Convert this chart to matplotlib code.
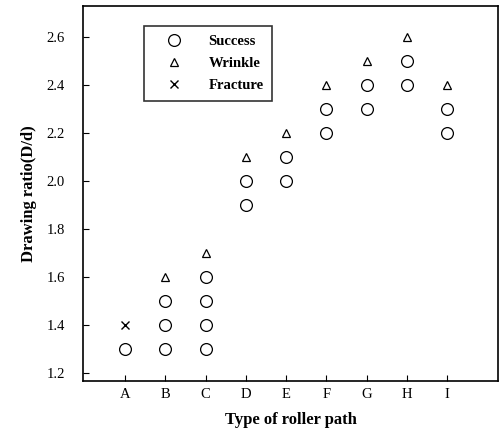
import matplotlib.pyplot as plt

# roller path types and the drawing ratios tried for each
paths = ["A", "B", "C", "D", "E", "F", "G", "H", "I"]

success_path = ["A", "B", "B", "B", "C", "C", "C", "C", "D", "D", "E", "E",
                "F", "F", "G", "G", "H", "H", "I", "I"]
success_ratio = [1.3, 1.3, 1.4, 1.5, 1.3, 1.4, 1.5, 1.6, 1.9, 2.0, 2.0, 2.1,
                 2.2, 2.3, 2.3, 2.4, 2.4, 2.5, 2.2, 2.3]

wrinkle_path = ["B", "C", "D", "E", "F", "G", "H", "I"]
wrinkle_ratio = [1.6, 1.7, 2.1, 2.2, 2.4, 2.5, 2.6, 2.4]

fracture_path = ["A"]
fracture_ratio = [1.4]

plt.rcParams['font.family'] = ['Liberation Serif', 'DejaVu Serif']

fig = plt.figure(figsize=(5.01, 4.29), dpi=100)
ax = fig.add_axes([0.166, 0.112, 0.828, 0.874])

pos = {p: i for i, p in enumerate(paths)}

ax.plot([pos[p] for p in success_path], success_ratio, 'o', ms=8.5,
        mfc='none', mec='black', mew=0.9, ls='none', label='Success')
ax.plot([pos[p] for p in wrinkle_path], wrinkle_ratio, '^', ms=6,
        mfc='none', mec='black', mew=0.9, ls='none', label='Wrinkle')
ax.plot([pos[p] for p in fracture_path], fracture_ratio, 'x', ms=5.5,
        mec='black', mew=1.0, ls='none', label='Fracture')

ax.set_xlim(-1.04, 9.26)
ax.set_ylim(1.167, 2.73)
ax.set_xticks(range(len(paths)))
ax.set_xticklabels(paths)
ax.set_yticks([1.2, 1.4, 1.6, 1.8, 2.0, 2.2, 2.4, 2.6])
ax.set_yticklabels(["1.2", "1.4", "1.6", "1.8", "2.0", "2.2", "2.4", "2.6"])
ax.tick_params(direction='in', length=4, width=0.8, labelsize=10.5)
ax.tick_params(axis='x', pad=5)
ax.tick_params(axis='y', pad=13)

for s in ax.spines.values():
    s.set_linewidth(1.2)

ax.set_xlabel("Type of roller path", fontsize=12, fontweight='bold', labelpad=8)
ax.set_ylabel("Drawing ratio(D/d)", fontsize=12, fontweight='bold', labelpad=7)

leg = ax.legend(loc='upper left', bbox_to_anchor=(0.13, 0.965), frameon=True,
                fancybox=False, edgecolor='black', borderpad=0.6,
                handletextpad=1.0, labelspacing=0.6, handlelength=2.8,
                prop={'weight': 'bold', 'size': 10.5})
leg.get_frame().set_linewidth(1.2)

fig.savefig("out.png", dpi=100)
